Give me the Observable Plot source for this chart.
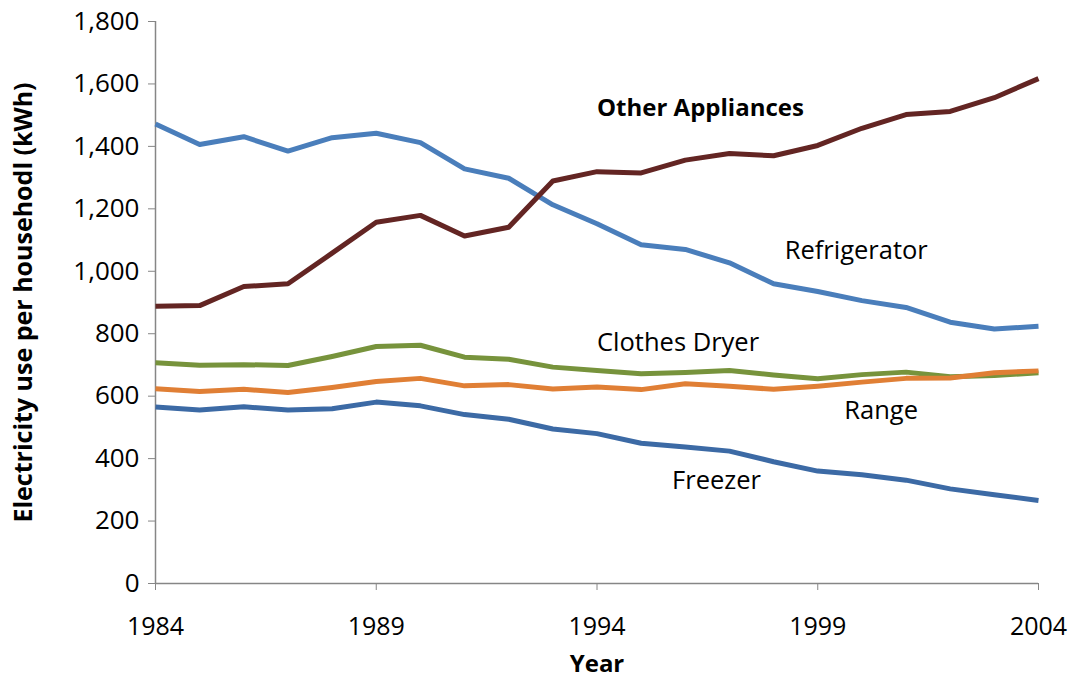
<!DOCTYPE html>
<html>
<head>
<meta charset="utf-8">
<script src="https://cdn.jsdelivr.net/npm/d3@7"></script>
<script src="https://cdn.jsdelivr.net/npm/@observablehq/plot@0.6"></script>
<style>
  html, body { margin: 0; padding: 0; background: #fff; }
  #chart svg { display: block; }
</style>
</head>
<body>
<div id="chart"></div>
<script>
const years = [1984,1985,1986,1987,1988,1989,1990,1991,1992,1993,1994,1995,1996,1997,1998,1999,2000,2001,2002,2003,2004];
const refrigerator = [1472,1406,1431,1385,1428,1442,1412,1328,1298,1213,1152,1085,1070,1027,960,935,906,884,837,815,824];
const otherAppliances = [888,890,951,960,1058,1157,1179,1113,1141,1289,1319,1315,1356,1377,1370,1403,1458,1502,1512,1556,1617];
const clothesDryer = [707,699,701,698,727,759,763,725,718,693,682,672,676,682,668,656,669,677,662,666,675];
const range = [624,615,622,612,628,647,657,633,637,623,629,621,640,632,622,632,645,657,658,675,681];
const freezer = [565,556,566,556,560,581,569,541,526,495,480,449,437,424,390,360,348,331,303,284,266];

const seriesNames = ["Refrigerator","Other Appliances","Clothes Dryer","Range","Freezer"];
const seriesValues = [refrigerator, otherAppliances, clothesDryer, range, freezer];
const seriesColors = ["#4a7ebb","#632523","#77933c","#e07f35","#3c6aa5"];

const xTicks = [1984,1989,1994,1999,2004];
const yTicks = [0,200,400,600,800,1000,1200,1400,1600,1800];

// label anchor positions in data space
const labelText = ["Other Appliances","Refrigerator","Clothes Dryer","Range","Freezer"];
const labelYear = [1994.0, 1998.25, 1994.0, 1999.6, 1995.7];
const labelValue = [1521, 1067, 772, 554, 330];
const labelBold = [true,false,false,false,false];

const rows = [];
seriesNames.forEach((name, i) => {
  years.forEach((yr, j) => rows.push({series: name, year: yr, value: seriesValues[i][j]}));
});
const labels = labelText.map((t, i) => ({text: t, year: labelYear[i], value: labelValue[i], bold: labelBold[i]}));

const FONT = "'Open Sans', sans-serif";
const axisGray = "#868686";

const chart = Plot.plot({
  width: 1075,
  height: 678,
  marginLeft: 155,
  marginRight: 37,
  marginTop: 21,
  marginBottom: 95,
  style: {fontFamily: FONT, fontSize: "26px", color: "#000", background: "#fff"},
  x: {domain: [1984, 2004]},
  y: {domain: [0, 1800]},
  color: {domain: seriesNames, range: seriesColors},
  marks: [
    Plot.axisY({ticks: yTicks, tickFormat: d3.format(","), tickSize: 7, tickPadding: 9, stroke: axisGray, fill: "#000", fontSize: 26,
      label: "Electricity use per househodl (kWh)", labelAnchor: "center", labelArrow: "none", labelOffset: 141}),
    Plot.axisX({ticks: xTicks, tickFormat: d3.format("d"), tickSize: 7, tickPadding: 27, stroke: axisGray, fill: "#000", fontSize: 25,
      label: "Year", labelAnchor: "center", labelArrow: "none", labelOffset: 88}),
    Plot.ruleX([1984], {stroke: axisGray, strokeWidth: 1.5}),
    Plot.ruleY([0], {stroke: axisGray, strokeWidth: 1.5}),
    Plot.line(rows, {x: "year", y: "value", z: "series", stroke: "series", strokeWidth: 5, strokeLinejoin: "round", strokeLinecap: "butt"}),
    Plot.text(labels.filter(d => !d.bold), {x: "year", y: "value", text: "text", textAnchor: "start", fontSize: 25.5, fill: "#000"}),
    Plot.text(labels.filter(d => d.bold), {x: "year", y: "value", text: "text", textAnchor: "start", fontSize: 24, fontWeight: "bold", fill: "#000"})
  ]
});
d3.select(chart).select('[aria-label="y-axis label"]').attr("font-weight", "bold").attr("font-size", 25);
d3.select(chart).select('[aria-label="x-axis label"]').attr("font-weight", "bold").attr("font-size", 24);
document.getElementById("chart").appendChild(chart);
</script>
</body>
</html>
